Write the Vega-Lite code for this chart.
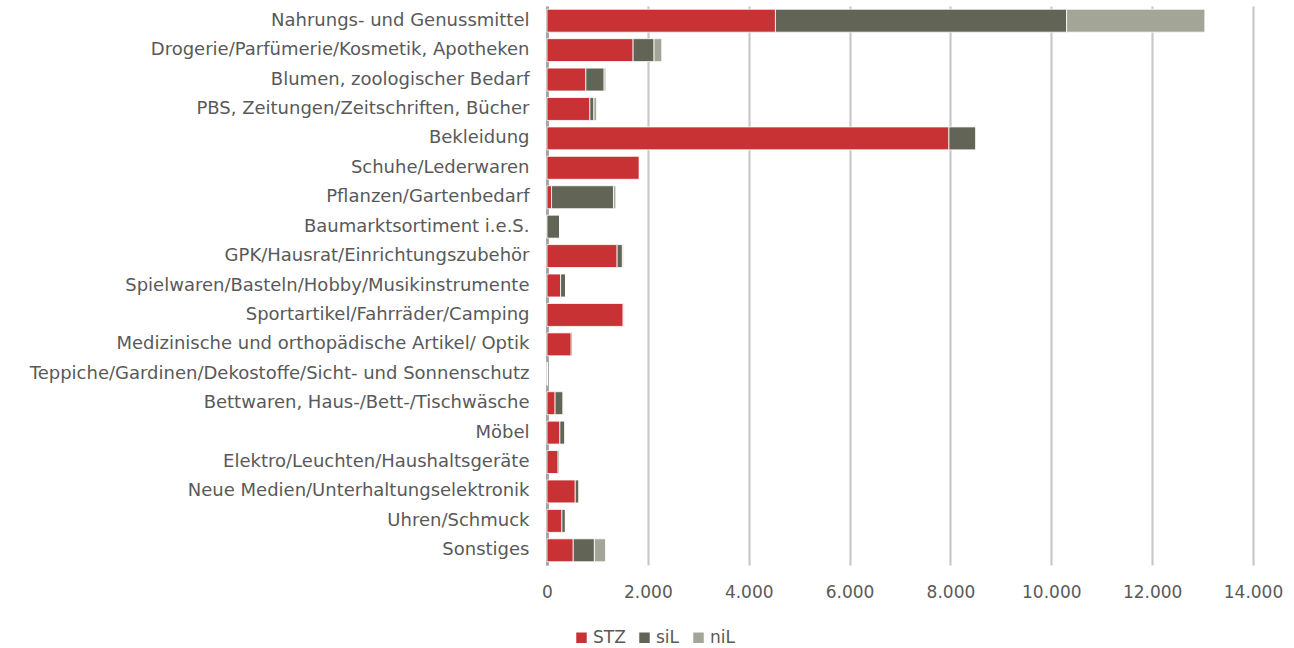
{
  "$schema": "https://vega.github.io/schema/vega-lite/v6.json",
  "width": 706,
  "height": 559,
  "autosize": {"type": "none"},
  "padding": {"left": 547, "top": 6, "right": 41, "bottom": 83},
  "background": "#ffffff",
  "config": {
    "view": {"stroke": null},
    "font": "DejaVu Sans",
    "locale": {"number": {"decimal": ",", "thousands": ".", "grouping": [3], "currency": ["", " €"]}}
  },
  "data": {
    "values": [
      {"c": "Nahrungs- und Genussmittel", "s": "STZ", "o": 1, "v": 4530},
      {"c": "Nahrungs- und Genussmittel", "s": "siL", "o": 2, "v": 5773},
      {"c": "Nahrungs- und Genussmittel", "s": "niL", "o": 3, "v": 2742},
      {"c": "Drogerie/Parfümerie/Kosmetik, Apotheken", "s": "STZ", "o": 1, "v": 1707},
      {"c": "Drogerie/Parfümerie/Kosmetik, Apotheken", "s": "siL", "o": 2, "v": 416},
      {"c": "Drogerie/Parfümerie/Kosmetik, Apotheken", "s": "niL", "o": 3, "v": 153},
      {"c": "Blumen, zoologischer Bedarf", "s": "STZ", "o": 1, "v": 770},
      {"c": "Blumen, zoologischer Bedarf", "s": "siL", "o": 2, "v": 363},
      {"c": "Blumen, zoologischer Bedarf", "s": "niL", "o": 3, "v": 34},
      {"c": "PBS, Zeitungen/Zeitschriften, Bücher", "s": "STZ", "o": 1, "v": 850},
      {"c": "PBS, Zeitungen/Zeitschriften, Bücher", "s": "siL", "o": 2, "v": 80},
      {"c": "PBS, Zeitungen/Zeitschriften, Bücher", "s": "niL", "o": 3, "v": 53},
      {"c": "Bekleidung", "s": "STZ", "o": 1, "v": 7970},
      {"c": "Bekleidung", "s": "siL", "o": 2, "v": 536},
      {"c": "Bekleidung", "s": "niL", "o": 3, "v": 0},
      {"c": "Schuhe/Lederwaren", "s": "STZ", "o": 1, "v": 1830},
      {"c": "Schuhe/Lederwaren", "s": "siL", "o": 2, "v": 10},
      {"c": "Schuhe/Lederwaren", "s": "niL", "o": 3, "v": 0},
      {"c": "Pflanzen/Gartenbedarf", "s": "STZ", "o": 1, "v": 90},
      {"c": "Pflanzen/Gartenbedarf", "s": "siL", "o": 2, "v": 1230},
      {"c": "Pflanzen/Gartenbedarf", "s": "niL", "o": 3, "v": 45},
      {"c": "Baumarktsortiment i.e.S.", "s": "STZ", "o": 1, "v": 0},
      {"c": "Baumarktsortiment i.e.S.", "s": "siL", "o": 2, "v": 250},
      {"c": "Baumarktsortiment i.e.S.", "s": "niL", "o": 3, "v": 0},
      {"c": "GPK/Hausrat/Einrichtungszubehör", "s": "STZ", "o": 1, "v": 1390},
      {"c": "GPK/Hausrat/Einrichtungszubehör", "s": "siL", "o": 2, "v": 105},
      {"c": "GPK/Hausrat/Einrichtungszubehör", "s": "niL", "o": 3, "v": 20},
      {"c": "Spielwaren/Basteln/Hobby/Musikinstrumente", "s": "STZ", "o": 1, "v": 270},
      {"c": "Spielwaren/Basteln/Hobby/Musikinstrumente", "s": "siL", "o": 2, "v": 100},
      {"c": "Spielwaren/Basteln/Hobby/Musikinstrumente", "s": "niL", "o": 3, "v": 0},
      {"c": "Sportartikel/Fahrräder/Camping", "s": "STZ", "o": 1, "v": 1510},
      {"c": "Sportartikel/Fahrräder/Camping", "s": "siL", "o": 2, "v": 15},
      {"c": "Sportartikel/Fahrräder/Camping", "s": "niL", "o": 3, "v": 10},
      {"c": "Medizinische und orthopädische Artikel/ Optik", "s": "STZ", "o": 1, "v": 480},
      {"c": "Medizinische und orthopädische Artikel/ Optik", "s": "siL", "o": 2, "v": 30},
      {"c": "Medizinische und orthopädische Artikel/ Optik", "s": "niL", "o": 3, "v": 0},
      {"c": "Teppiche/Gardinen/Dekostoffe/Sicht- und Sonnenschutz", "s": "STZ", "o": 1, "v": 8},
      {"c": "Teppiche/Gardinen/Dekostoffe/Sicht- und Sonnenschutz", "s": "siL", "o": 2, "v": 0},
      {"c": "Teppiche/Gardinen/Dekostoffe/Sicht- und Sonnenschutz", "s": "niL", "o": 3, "v": 0},
      {"c": "Bettwaren, Haus-/Bett-/Tischwäsche", "s": "STZ", "o": 1, "v": 160},
      {"c": "Bettwaren, Haus-/Bett-/Tischwäsche", "s": "siL", "o": 2, "v": 160},
      {"c": "Bettwaren, Haus-/Bett-/Tischwäsche", "s": "niL", "o": 3, "v": 0},
      {"c": "Möbel", "s": "STZ", "o": 1, "v": 255},
      {"c": "Möbel", "s": "siL", "o": 2, "v": 100},
      {"c": "Möbel", "s": "niL", "o": 3, "v": 0},
      {"c": "Elektro/Leuchten/Haushaltsgeräte", "s": "STZ", "o": 1, "v": 220},
      {"c": "Elektro/Leuchten/Haushaltsgeräte", "s": "siL", "o": 2, "v": 25},
      {"c": "Elektro/Leuchten/Haushaltsgeräte", "s": "niL", "o": 3, "v": 0},
      {"c": "Neue Medien/Unterhaltungselektronik", "s": "STZ", "o": 1, "v": 560},
      {"c": "Neue Medien/Unterhaltungselektronik", "s": "siL", "o": 2, "v": 75},
      {"c": "Neue Medien/Unterhaltungselektronik", "s": "niL", "o": 3, "v": 0},
      {"c": "Uhren/Schmuck", "s": "STZ", "o": 1, "v": 295},
      {"c": "Uhren/Schmuck", "s": "siL", "o": 2, "v": 70},
      {"c": "Uhren/Schmuck", "s": "niL", "o": 3, "v": 0},
      {"c": "Sonstiges", "s": "STZ", "o": 1, "v": 520},
      {"c": "Sonstiges", "s": "siL", "o": 2, "v": 420},
      {"c": "Sonstiges", "s": "niL", "o": 3, "v": 220}
    ]
  },
  "mark": {"type": "bar", "stroke": "#ffffff", "strokeWidth": 0.8},
  "encoding": {
    "y": {
      "field": "c",
      "type": "nominal",
      "sort": null,
      "scale": {"paddingInner": 0.22, "paddingOuter": 0.11},
      "axis": {
        "title": null,
        "ticks": false,
        "labelFontSize": 18,
        "labelColor": "#595959",
        "labelPadding": 18,
        "labelLimit": 560,
        "domainColor": "#a6a6a6",
        "domainWidth": 3,
        "grid": false
      }
    },
    "x": {
      "field": "v",
      "type": "quantitative",
      "stack": "zero",
      "scale": {"domain": [0, 14000], "nice": false},
      "axis": {
        "title": null,
        "values": [0, 2000, 4000, 6000, 8000, 10000, 12000, 14000],
        "format": ",.0f",
        "ticks": false,
        "domain": false,
        "labelFlush": false,
        "labelBound": false,
        "labelOverlap": false,
        "labelFontSize": 17,
        "labelColor": "#595959",
        "labelPadding": 19,
        "gridColor": "#c8c8c8",
        "gridWidth": 2.2
      }
    },
    "color": {
      "field": "s",
      "type": "nominal",
      "scale": {"domain": ["STZ", "siL", "niL"], "range": ["#c83234", "#626555", "#a3a596"]},
      "legend": {
        "title": null,
        "orient": "none",
        "direction": "horizontal",
        "legendX": 26,
        "legendY": 623,
        "symbolType": "square",
        "symbolSize": 110,
        "symbolStrokeWidth": 0,
        "labelFontSize": 17,
        "labelColor": "#595959",
        "labelOffset": 3,
        "columnPadding": 10
      }
    },
    "order": {"field": "o", "type": "quantitative", "sort": "ascending"}
  }
}
